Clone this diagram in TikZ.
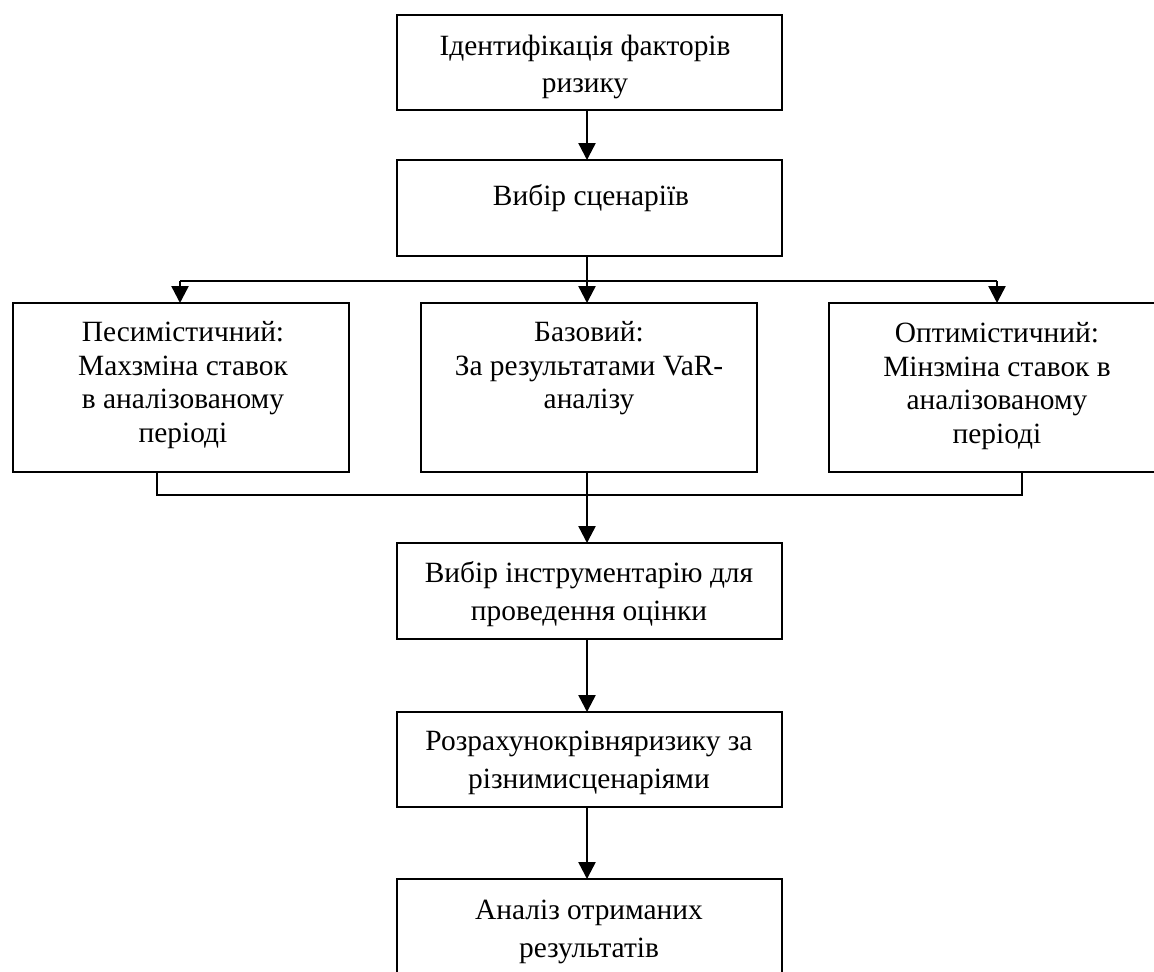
\documentclass[tikz,border=0pt]{standalone}
\usepackage{fontspec}
\setmainfont{Liberation Serif}
\usetikzlibrary{arrows.meta}
\begin{document}
\begin{tikzpicture}[x=0.5pt,y=-0.5pt,
  box/.style={draw, line width=1.2pt, rectangle, inner sep=0pt, outer sep=0pt},
  wide/.style={minimum width=192.5pt},
  side/.style={minimum width=168pt, minimum height=84.5pt},
  txt/.style={anchor=base, align=center, inner sep=0pt, font=\fontsize{14.7}{19}\selectfont},
  txtone/.style={txt, font=\fontsize{14.7}{18.5}\selectfont},
  txtsm/.style={txt, font=\fontsize{14.7}{16.7}\selectfont},
  arr/.style={line width=1.2pt, -{Triangle[length=8.5pt,width=8.5pt]}},
  ln/.style={line width=1.2pt}]
\useasboundingbox (0,0) rectangle (1154,971);
\clip (0,0) rectangle (1154,971);
\fill[white] (0,0) rectangle (1154,971);
% boxes
\node[box, wide, minimum height=47.5pt] (b1) at (589.5,62.5) {};
\node[box, wide, minimum height=48pt]   (b2) at (589.5,208) {};
\node[box, side] (bl) at (181,387.5) {};
\node[box, side] (bm) at (589,387.5) {};
\node[box, side] (br) at (997,387.5) {};
\node[box, wide, minimum height=48pt]   (b4) at (589.5,591) {};
\node[box, wide, minimum height=47.5pt] (b5) at (589.5,759.5) {};
\node[box, wide, minimum height=48pt]   (b6) at (589.5,927) {};
% texts (anchor = baseline of the last line)
\node[txtone] (t1) at (585,92) {Ідентифікація факторів\\ризику};
\node[txt] (t2) at (591,205) {Вибір сценаріїв};
\node[txtsm] (tl) at (183,442) {Песимістичний:\\Махзміна ставок\\в аналізованому\\періоді};
\node[txtsm] (tm) at (589,408.5) {Базовий:\\За результатами VaR-\\аналізу};
\node[txtsm] (tr) at (997,443) {Оптимістичний:\\Мінзміна ставок в\\аналізованому\\періоді};
\node[txt] (t4) at (589,620) {Вибір інструментарію для\\проведення оцінки};
\node[txt] (t5) at (589,788) {Розрахунокрівняризику за\\різнимисценаріями};
\node[txt] (t6) at (589,957) {Аналіз отриманих\\результатів};
% junction coordinates
\coordinate (split) at (587,281);
\coordinate (join) at (587,495);
% connectors
\draw[arr] (b1.south -| split) -- (b2.north -| split);
\draw[ln] (b2.south -| split) -- (split);
\draw[ln] (180,281 |- split) -- (997,281 |- split);
\draw[arr] (split) -- (bm.north -| split);
\draw[arr] (split -| 180,0) -- (bl.north -| 180,0);
\draw[arr] (split -| 997,0) -- (br.north -| 997,0);
\draw[ln] (bl.south -| 157,0) -- (join -| 157,0) -- (join -| 1022,0) -- (br.south -| 1022,0);
\draw[ln] (bm.south -| join) -- (join);
\draw[arr] (join) -- (b4.north -| join);
\draw[arr] (b4.south -| join) -- (b5.north -| join);
\draw[arr] (b5.south -| join) -- (b6.north -| join);
\end{tikzpicture}
\end{document}
